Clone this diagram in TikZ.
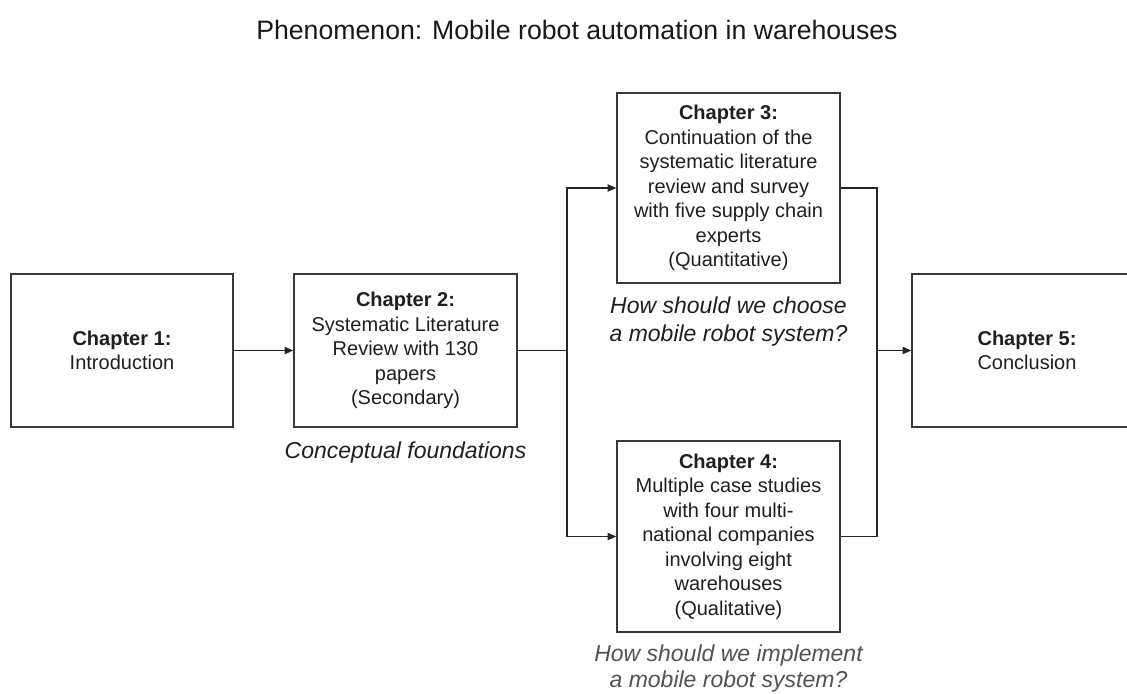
\documentclass[tikz,border=0pt]{standalone}
\usepackage{fontspec}
\setmainfont{Liberation Sans}
\usetikzlibrary{arrows.meta}
\begin{document}
\begin{tikzpicture}[x=0.75pt,y=-0.75pt,
  chapbox/.style={draw=black!78, line width=1.1pt, fill=white, align=center,
    inner sep=0pt, font=\fontsize{15}{18.4}\selectfont, text=black!88},
  link/.style={draw=black!85, line width=1pt},
  arr/.style={link, -{Triangle[length=6.5pt,width=5.5pt]}},
  note/.style={font=\fontsize{17.25}{20.5}\selectfont\itshape, align=center,
    anchor=base, text=black!88}
]
\useasboundingbox (0,0) rectangle (1127,693);

% title
\node[anchor=base, font=\fontsize{20}{24}\selectfont, text=black!90] (title) at (577,39)
  {Phenomenon: Mobile robot automation in warehouses};

% chapter boxes
\node[chapbox, minimum width=166.5pt, minimum height=114.75pt] (c1) at (122,350.5)
  {\textbf{Chapter 1:}\\Introduction};
\node[chapbox, minimum width=167.25pt, minimum height=114.75pt] (c2) at (405.5,350.5)
  {\textbf{Chapter 2:}\\Systematic Literature\\Review with 130\\papers\\(Secondary)};
\node[chapbox, minimum width=167.25pt, minimum height=142.5pt] (c3) at (728.5,188)
  {\textbf{Chapter 3:}\\Continuation of the\\systematic literature\\review and survey\\with five supply chain\\experts\\(Quantitative)};
\node[chapbox, minimum width=167.25pt, minimum height=143.25pt] (c4) at (728.5,536.5)
  {\textbf{Chapter 4:}\\Multiple case studies\\with four multi-\\national companies\\involving eight\\warehouses\\(Qualitative)};
\node[chapbox, minimum width=172.5pt, minimum height=114.75pt] (c5) at (1027,350.5)
  {\textbf{Chapter 5:}\\Conclusion};

% italic captions (anchored at the baseline of their last line)
\node[note] (n2) at (405.5,458) {Conceptual foundations};
\node[note, font=\fontsize{17.25}{20.8}\selectfont\itshape] (n3) at (728.5,341)
  {How should we choose\\a mobile robot system?};
\node[note, font=\fontsize{17.25}{19.5}\selectfont\itshape, text=black!68] (n4) at (728.5,687)
  {How should we implement\\a mobile robot system?};

% branching points
\coordinate (split) at (567,350.5);
\coordinate (join) at (877,350.5);

% connectors
\draw[arr] (c1) -- (c2);
\draw[link] (c2) -- (split);
\draw[arr] (split) |- (c3);
\draw[arr] (split) |- (c4);
\draw[link] (c3) -| (join);
\draw[link] (c4) -| (join);
\draw[arr] (join) -- (c5);
\end{tikzpicture}
\end{document}
